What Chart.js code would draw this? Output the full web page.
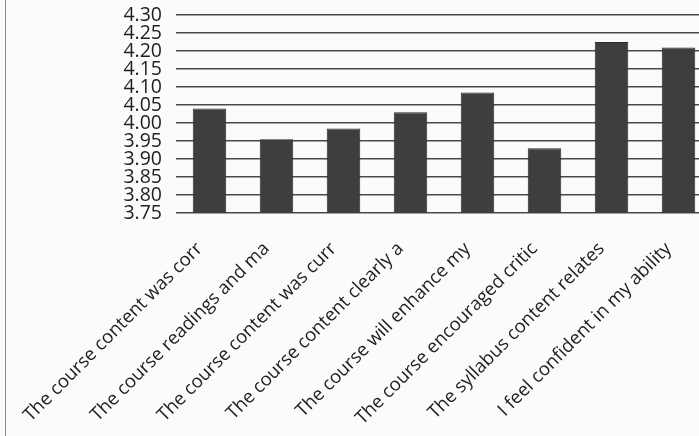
<!DOCTYPE html>
<html>
<head>
<meta charset="utf-8">
<script src="https://cdn.jsdelivr.net/npm/chart.js@4/dist/chart.umd.min.js"></script>
<style>
  html, body { margin: 0; padding: 0; background: #fbfbfa; overflow: hidden; }
  #wrap { position: relative; width: 720px; height: 436px; }
  #c { display: block; }
  #edge { position: absolute; left: 5px; top: 0; width: 0; height: 436px; border-left: 1.5px solid #8a8a8a; }
</style>
</head>
<body>
<div id="wrap">
  <canvas id="c" width="720" height="436"></canvas>
  <div id="edge"></div>
</div>
<script>
const categories = [
  "The course content was corr",
  "The course readings and ma",
  "The course content was curr",
  "The course content clearly a",
  "The course will enhance my",
  "The course encouraged critic",
  "The syllabus content relates",
  "I feel confident in my ability"
];
const meanScores = [4.04, 3.955, 3.985, 4.03, 4.085, 3.93, 4.225, 4.21];
const yMin = 3.75;
const yMax = 4.30;
const yStep = 0.05;

new Chart(document.getElementById('c'), {
  type: 'bar',
  data: {
    labels: categories,
    datasets: [{
      data: meanScores,
      backgroundColor: '#3e3e3e',
      borderColor: '#2c2c2c',
      borderWidth: 1,
      categoryPercentage: 1.0,
      barPercentage: 0.5
    }]
  },
  options: {
    responsive: false,
    animation: false,
    devicePixelRatio: 1,
    layout: { padding: { top: 15, right: 8, left: 0, bottom: 0 } },
    plugins: { legend: { display: false }, tooltip: { enabled: false } },
    scales: {
      x: {
        grid: { display: false },
        border: { display: false },
        ticks: {
          color: '#1e1e1e',
          font: { family: 'Open Sans', size: 18.5 },
          maxRotation: 45,
          minRotation: 45,
          autoSkip: false,
          labelOffset: -10,
          padding: 17
        },
        afterFit: (s) => { s.height = 223; s.paddingLeft = 0; s.paddingRight = 0; }
      },
      y: {
        min: yMin,
        max: yMax,
        border: { display: false },
        grid: { color: '#4a4a4a', lineWidth: 1.4, drawTicks: false },
        ticks: {
          stepSize: yStep,
          autoSkip: false,
          color: '#1e1e1e',
          padding: 14,
          font: { family: 'Open Sans', size: 19.5 },
          callback: (v) => Number(v).toFixed(2)
        },
        afterFit: (s) => { s.width = 176; s.paddingTop = 0; s.paddingBottom = 0; }
      }
    }
  }
});
</script>
</body>
</html>
